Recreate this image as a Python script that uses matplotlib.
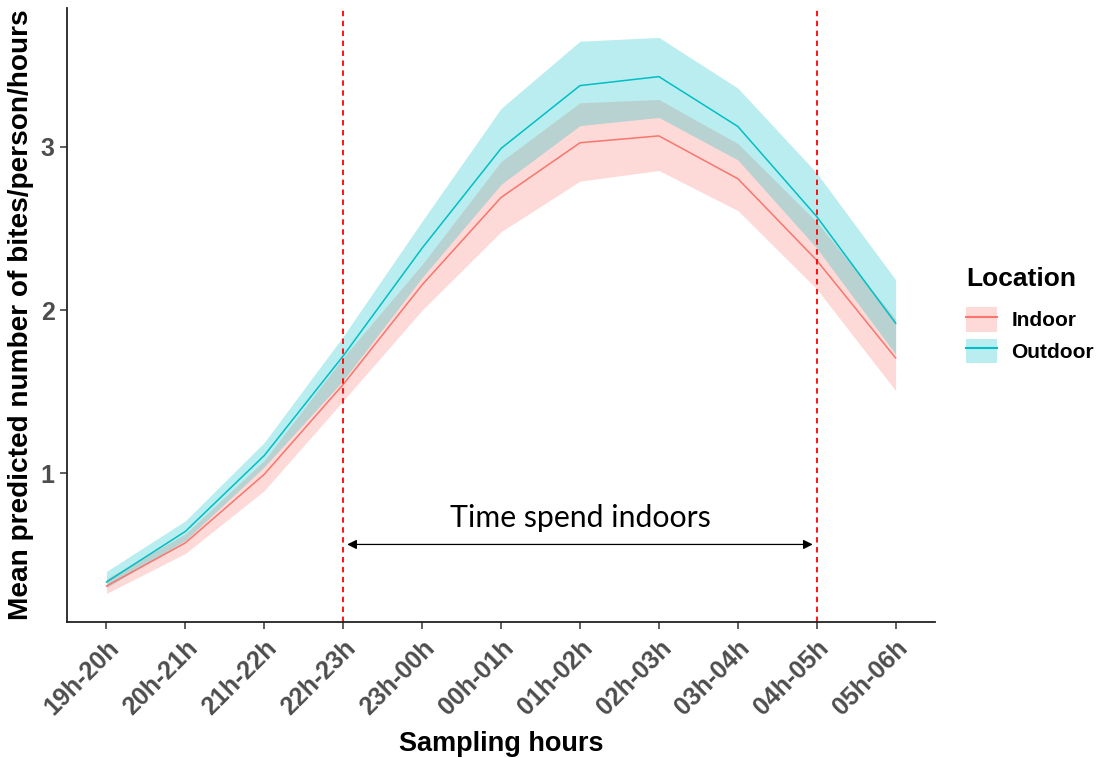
import numpy as np
import matplotlib.pyplot as plt
import matplotlib.transforms as mtransforms
from matplotlib.patches import Patch
from matplotlib.lines import Line2D

# sampling hour bins and model predictions (mean with 95% band)
hours = ['19h-20h', '20h-21h', '21h-22h', '22h-23h', '23h-00h', '00h-01h',
         '01h-02h', '02h-03h', '03h-04h', '04h-05h', '05h-06h']

indoor_mean = [0.31, 0.575, 0.995, 1.545, 2.155, 2.69, 3.025, 3.067, 2.805, 2.305, 1.707]
indoor_lo = [0.265, 0.51, 0.895, 1.445, 2.0, 2.48, 2.79, 2.855, 2.61, 2.13, 1.507]
indoor_hi = [0.355, 0.63, 1.08, 1.71, 2.28, 2.91, 3.27, 3.29, 3.02, 2.54, 1.945]

outdoor_mean = [0.335, 0.645, 1.11, 1.72, 2.38, 2.99, 3.375, 3.43, 3.125, 2.573, 1.92]
outdoor_lo = [0.30, 0.59, 1.04, 1.57, 2.2, 2.77, 3.13, 3.18, 2.92, 2.38, 1.73]
outdoor_hi = [0.40, 0.71, 1.19, 1.84, 2.545, 3.235, 3.647, 3.67, 3.36, 2.84, 2.186]

# window spent indoors (between these two bins)
indoor_start = '22h-23h'
indoor_end = '04h-05h'

c_in = '#F8766D'
c_out = '#00BFC4'
grey = '#4D4D4D'

plt.rcParams['font.family'] = ['Liberation Sans', 'DejaVu Sans']

fig = plt.figure(figsize=(10.97, 7.58), dpi=100)
ax = fig.add_axes([0.0611, 0.1794, 0.7913, 0.810])

x = np.arange(len(hours))

ax.fill_between(x, indoor_lo, indoor_hi, color=c_in, alpha=0.27, lw=0)
ax.fill_between(x, outdoor_lo, outdoor_hi, color=c_out, alpha=0.27, lw=0)
ax.plot(x, indoor_mean, color=c_in, lw=1.1)
ax.plot(x, outdoor_mean, color=c_out, lw=1.1)

xs = hours.index(indoor_start)
xe = hours.index(indoor_end)
for xv in (xs, xe):
    ax.axvline(xv, color='#FF0000', lw=1.3, ls=(0, (3, 2.5)))

ax.annotate('', xy=(xs + 0.05, 0.565), xytext=(xe - 0.05, 0.565),
            arrowprops=dict(arrowstyle='<|-|>', color='black', lw=0.9,
                            mutation_scale=14, shrinkA=0, shrinkB=0))
ax.text((xs + xe) / 2, 0.672, 'Time spend indoors', ha='center', va='baseline',
        fontsize=21.8, family='Lato')

ax.set_xlim(-0.5, 10.5)
ax.set_ylim(0.09, 3.85)
ax.set_xticks(x)
ax.set_xticklabels(hours, rotation=45, ha='right', va='top',
                   rotation_mode='anchor', fontsize=18, fontweight='bold', color=grey)
# nudge the slanted labels a little to the right of their ticks
shift = mtransforms.ScaledTranslation(5 / 72, 0, fig.dpi_scale_trans)
for lab in ax.get_xticklabels():
    lab.set_transform(lab.get_transform() + shift)
ax.set_yticks([1, 2, 3])
ax.set_yticklabels(['1', '2', '3'], fontsize=18, fontweight='bold', color=grey)
ax.tick_params(axis='both', length=5, width=1.1, color='#333333')
ax.tick_params(axis='x', pad=5)
ax.tick_params(axis='y', pad=4)

for side in ('top', 'right'):
    ax.spines[side].set_visible(False)
for side in ('left', 'bottom'):
    ax.spines[side].set_linewidth(1.3)
    ax.spines[side].set_color('#222222')

ax.set_xlabel('Sampling hours', fontsize=19.5, fontweight='bold')
ax.xaxis.set_label_coords(0.5, -0.178)
ax.set_ylabel('Mean predicted number of bites/person/hours', fontsize=20.2,
              fontweight='bold', labelpad=5)

handles = [
    (Patch(facecolor=c_in, alpha=0.27, lw=0), Line2D([], [], color=c_in, lw=1.5)),
    (Patch(facecolor=c_out, alpha=0.27, lw=0), Line2D([], [], color=c_out, lw=1.5)),
]
leg = fig.legend(handles, ['Indoor', 'Outdoor'], title='Location',
                 loc='upper left', bbox_to_anchor=(0.881, 0.648), frameon=False,
                 borderpad=0, borderaxespad=0,
                 prop={'size': 15, 'weight': 'bold'}, handlelength=1.45,
                 handleheight=1.4, handletextpad=0.7, labelspacing=0.35)
leg.get_title().set_fontsize(19)
leg.get_title().set_fontweight('bold')
leg._legend_box.align = 'left'
leg._legend_box.sep = 12

fig.savefig('out.png', dpi=100)
